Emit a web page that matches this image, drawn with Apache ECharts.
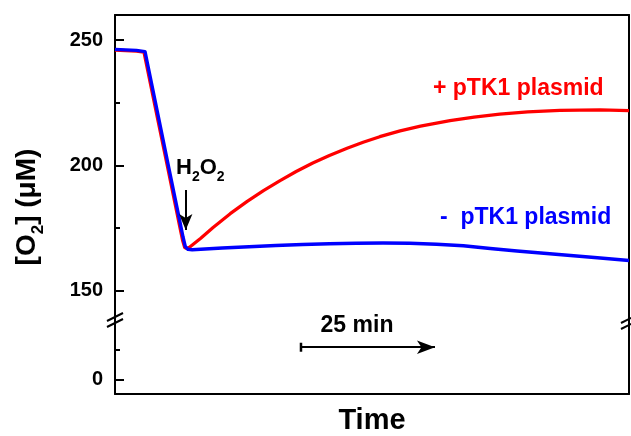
<!DOCTYPE html>
<html><head><meta charset="utf-8">
<script src="https://cdn.jsdelivr.net/npm/echarts@6/dist/echarts.min.js"></script>
<style>html,body{margin:0;padding:0;background:#fff}#c{width:631px;height:436px}</style>
</head><body><div id="c"></div>
<script>
// Time (min) and O2 concentration (µM)
const redTime = [0, 2, 4, 5.4, 8, 10, 12, 12.6, 13.0, 13.4, 13.9, 14.6, 16, 18.3, 21.5, 24.6, 27.7, 30.8, 33.8, 36.9, 40, 43.3, 46.3, 49.4, 53.2, 57, 62.5, 67, 71.8, 77, 83, 90.5, 95.9];
const redO2   = [246, 245.8, 245.6, 245.2, 218.1, 197.3, 176.4, 170.2, 167.3, 166.9, 167.4, 168.6, 171.0, 175.3, 180.8, 185.6, 190.0, 194.0, 197.6, 201.0, 204.0, 206.9, 209.3, 211.5, 213.8, 215.7, 217.9, 219.3, 220.5, 221.4, 222.0, 222.2, 221.9];
const blueTime = [0, 2, 4, 5.6, 8, 10, 12, 12.7, 13.1, 13.6, 14.4, 16, 20, 25, 30, 35, 40, 45, 50, 55, 60, 65, 70, 75, 80, 85, 90, 95.9];
const blueO2   = [246.3, 246.1, 245.9, 245.4, 220.4, 199.5, 178.7, 171.4, 167.8, 166.6, 166.4, 166.6, 167.1, 167.6, 168.1, 168.5, 168.8, 169.0, 169.1, 169.0, 168.6, 168.0, 166.9, 165.9, 165.0, 164.1, 163.2, 162.1];
const upperMajorTicks = [150, 200, 250];
const upperMinorTicks = [175, 225];
const lowerMajorTicks = [0];
const lowerMinorTicks = [25];
const scaleBarStart = 34.7;   // min
const scaleBarLength = 25;    // min
const h2o2Time = 13.2;        // min
const h2o2From = 190.2, h2o2To = 174.3;

const pair = (xs, ys) => xs.map((x, i) => [x, ys[i]]);
const FONT = '"Liberation Sans", Arial, sans-serif';
const black = '#000';
const xMax = 95.9;

const chart = echarts.init(document.getElementById('c'), null, {renderer: 'canvas'});

const lineAx = {show: true, onZero: false, lineStyle: {color: black, width: 2}};
const noLbl = {show: false};
const noTick = {show: false};

chart.setOption({
  animation: false,
  backgroundColor: '#fff',
  grid: [
    {left: 115, right: 2, top: 15, height: 305},
    {left: 115, right: 2, top: 320, height: 76}
  ],
  xAxis: [
    {gridIndex: 0, type: 'value', min: 0, max: xMax, position: 'top', axisLine: lineAx, axisTick: noTick, axisLabel: noLbl, splitLine: {show: false}},
    {gridIndex: 1, type: 'value', min: 0, max: xMax, position: 'bottom', axisLine: lineAx, axisTick: noTick, axisLabel: noLbl, splitLine: {show: false},
     name: 'Time', nameLocation: 'middle', nameGap: 12,
     nameTextStyle: {fontFamily: FONT, fontWeight: 'bold', fontSize: 29, color: black, verticalAlign: 'top'}}
  ],
  yAxis: [
    {gridIndex: 0, type: 'value', min: 138.4, max: 260, position: 'left', axisLine: lineAx,
     axisTick: {show: true, inside: true, length: 9, lineStyle: {color: black, width: 2}, customValues: upperMajorTicks},
     axisLabel: {show: true, customValues: upperMajorTicks, margin: 12, fontFamily: FONT, fontWeight: 'bold', fontSize: 20, color: black},
     splitLine: {show: false}},
    {gridIndex: 0, type: 'value', min: 138.4, max: 260, position: 'left', axisLine: {show: false},
     axisTick: {show: true, inside: true, length: 5, lineStyle: {color: black, width: 2}, customValues: upperMinorTicks},
     axisLabel: noLbl, splitLine: {show: false}},
    {gridIndex: 0, type: 'value', min: 138.4, max: 260, position: 'right', axisLine: lineAx, axisTick: noTick, axisLabel: noLbl, splitLine: {show: false}},
    {gridIndex: 1, type: 'value', min: -12.5, max: 50.8, position: 'left', axisLine: lineAx,
     axisTick: {show: true, inside: true, length: 9, lineStyle: {color: black, width: 2}, customValues: lowerMajorTicks},
     axisLabel: {show: true, customValues: lowerMajorTicks, margin: 12, fontFamily: FONT, fontWeight: 'bold', fontSize: 20, color: black},
     splitLine: {show: false}},
    {gridIndex: 1, type: 'value', min: -12.5, max: 50.8, position: 'left', axisLine: {show: false},
     axisTick: {show: true, inside: true, length: 5, lineStyle: {color: black, width: 2}, customValues: lowerMinorTicks},
     axisLabel: noLbl, splitLine: {show: false}},
    {gridIndex: 1, type: 'value', min: -12.5, max: 50.8, position: 'right', axisLine: lineAx, axisTick: noTick, axisLabel: noLbl, splitLine: {show: false}}
  ],
  series: [
    {type: 'line', xAxisIndex: 0, yAxisIndex: 0, data: pair(redTime, redO2), showSymbol: false, symbol: 'none',
     lineStyle: {color: '#ff0000', width: 3.2, join: 'round'}, z: 3, silent: true},
    {type: 'line', xAxisIndex: 0, yAxisIndex: 0, data: pair(blueTime, blueO2), showSymbol: false, symbol: 'none',
     lineStyle: {color: '#0000ff', width: 3.4, join: 'round'}, z: 4, silent: true},
    {type: 'line', xAxisIndex: 0, yAxisIndex: 0, data: [], silent: true,
     markLine: {silent: true, animation: false, label: {show: false},
       lineStyle: {color: black, width: 2, type: 'solid'},
       data: [[{coord: [h2o2Time, h2o2From], symbol: 'none'}, {coord: [h2o2Time, h2o2To], symbol: 'arrow', symbolSize: [10, 16]}]]}},
    {type: 'line', xAxisIndex: 1, yAxisIndex: 3, data: [], silent: true,
     markLine: {silent: true, animation: false, label: {show: false},
       lineStyle: {color: black, width: 2, type: 'solid'},
       data: [[{coord: [scaleBarStart, 27.5], symbol: 'rect', symbolSize: [9, 2.5]},
               {coord: [scaleBarStart + scaleBarLength, 27.5], symbol: 'arrow', symbolSize: [10, 18]}]]}}
  ],
  graphic: [
    {type: 'text', x: 30, y: 207, rotation: Math.PI / 2, z: 10,
     style: {text: '{b|[O}{s|2}{b|] (μM)}', align: 'center', verticalAlign: 'middle',
       rich: {b: {fontFamily: FONT, fontWeight: 'bold', fontSize: 28, fill: black, lineHeight: 34, verticalAlign: 'top'},
              s: {fontFamily: FONT, fontWeight: 'bold', fontSize: 17, fill: black, lineHeight: 34, verticalAlign: 'bottom'}}}},
    {type: 'text', x: 176, y: 157, z: 10,
     style: {text: '{b|H}{s|2}{b|O}{s|2}', align: 'left', verticalAlign: 'top',
       rich: {b: {fontFamily: FONT, fontWeight: 'bold', fontSize: 22, fill: black, lineHeight: 27, verticalAlign: 'top'},
              s: {fontFamily: FONT, fontWeight: 'bold', fontSize: 14, fill: black, lineHeight: 27, verticalAlign: 'bottom'}}}},
    {type: 'text', x: 433, y: 89, z: 10,
     style: {text: '+ pTK1 plasmid', fontFamily: FONT, fontWeight: 'bold', fontSize: 23, fill: '#ff0000', align: 'left', verticalAlign: 'middle'}},
    {type: 'text', x: 440, y: 218, z: 10,
     style: {text: '-  pTK1 plasmid', fontFamily: FONT, fontWeight: 'bold', fontSize: 23, fill: '#0000ff', align: 'left', verticalAlign: 'middle'}},
    {type: 'text', x: 357, y: 326, z: 10,
     style: {text: '25 min', fontFamily: FONT, fontWeight: 'bold', fontSize: 23, fill: black, align: 'center', verticalAlign: 'middle'}},
    // axis break marks
    {type: 'group', x: 115, y: 320, z: 20, children: [
      {type: 'polygon', shape: {points: [[-3, 0], [3, -3], [3, 3], [-3, 6]]}, style: {fill: '#fff'}},
      {type: 'line', shape: {x1: -8, y1: 1, x2: 8, y2: -7}, style: {stroke: black, lineWidth: 2}},
      {type: 'line', shape: {x1: -8, y1: 7, x2: 8, y2: -1}, style: {stroke: black, lineWidth: 2}}
    ]},
    {type: 'group', x: 629, y: 322, z: 20, children: [
      {type: 'polygon', shape: {points: [[-3, 0], [3, -3], [3, 3], [-3, 6]]}, style: {fill: '#fff'}},
      {type: 'line', shape: {x1: -8, y1: 1, x2: 8, y2: -7}, style: {stroke: black, lineWidth: 2}},
      {type: 'line', shape: {x1: -8, y1: 7, x2: 8, y2: -1}, style: {stroke: black, lineWidth: 2}}
    ]}
  ]
});
</script></body></html>
